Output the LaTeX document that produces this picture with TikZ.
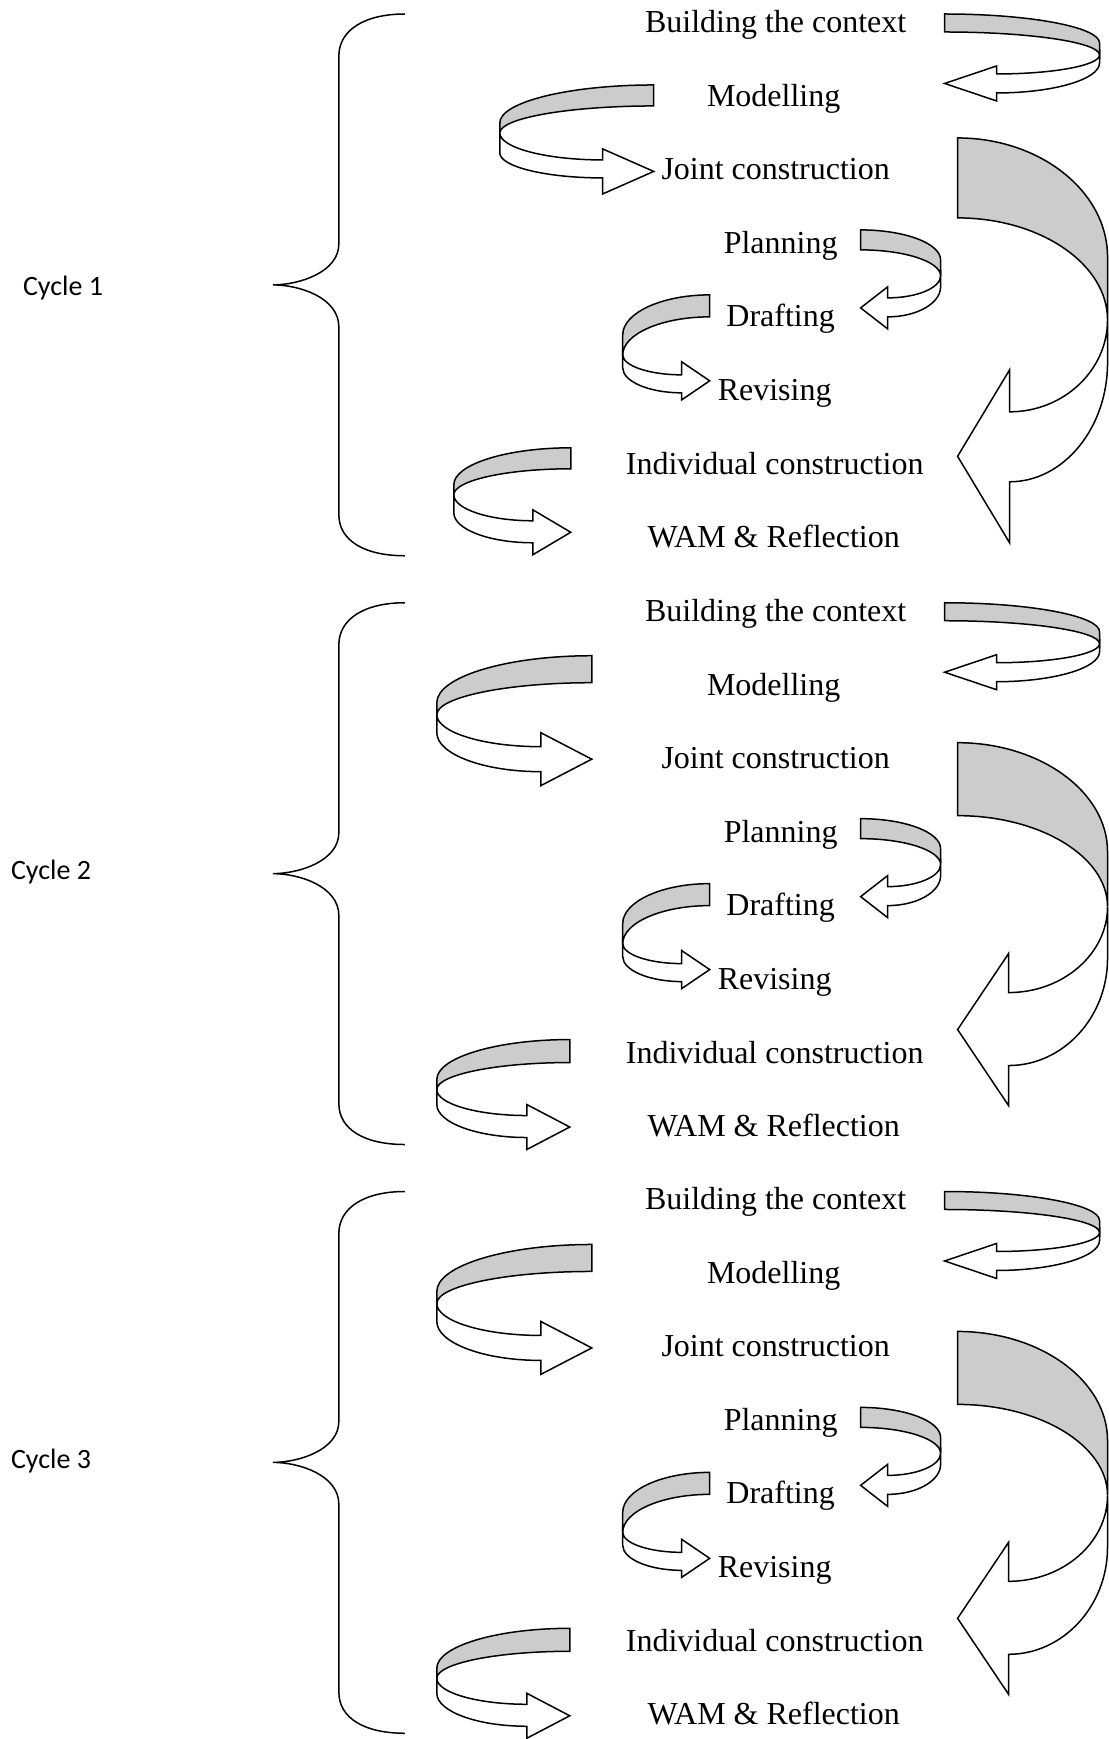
\documentclass[tikz,border=0pt]{standalone}
\usepackage{fontspec}
\setmainfont{Liberation Serif}
\newfontfamily\cyclefont{Carlito}
\usepackage{tikz}

% ribbon arrow: X0, X1 (far side), Xa (head base), Y0, Yg (flat end),
% Ym, Yt (twist), Yv (far side), Yw1 | then Yw2, barb top, barb bottom
\newcommand{\ribbon}[9]{%
  \def\rbXo{#1}\def\rbXi{#2}\def\rbXa{#3}%
  \def\rbYo{#4}\def\rbYg{#5}\def\rbYm{#6}\def\rbYt{#7}\def\rbYv{#8}\def\rbYw{#9}%
  \ribbontail}
\newcommand{\ribbontail}[3]{%
  \draw[back_band] (\rbXo,\rbYo)
    .. controls ({\rbXo+0.55*(\rbXi-\rbXo)},\rbYo) and (\rbXi,{\rbYm-0.55*(\rbYm-\rbYo)}) .. (\rbXi,\rbYm)
    -- (\rbXi,\rbYt)
    .. controls (\rbXi,{\rbYt-0.55*(\rbYt-\rbYg)}) and ({\rbXo+0.55*(\rbXi-\rbXo)},\rbYg) .. (\rbXo,\rbYg)
    -- cycle;
  \draw[front_band] (\rbXi,\rbYt)
    .. controls (\rbXi,{\rbYt+0.55*(\rbYw-\rbYt)}) and ({\rbXa+0.55*(\rbXi-\rbXa)},\rbYw) .. (\rbXa,\rbYw)
    -- (\rbXa,#2) -- (\rbXo,{(#2+#3)/2}) -- (\rbXa,#3) -- (\rbXa,#1)
    .. controls ({\rbXa+0.55*(\rbXi-\rbXa)},#1) and (\rbXi,{\rbYv+0.55*(#1-\rbYv)}) .. (\rbXi,\rbYv)
    -- cycle;
}

\begin{document}
\begin{tikzpicture}
  [x=1pt,y=-1pt]
  \tikzstyle{lbl} = [font=\fontsize{32}{38}\selectfont, text height=22pt, text depth=7pt, inner sep=0pt]
  \tikzstyle{cyc} = [font=\cyclefont\fontsize{28}{34}\selectfont, inner sep=0pt]
  \tikzstyle{brace} = [draw=black, line width=1.5pt]
  \tikzstyle{back_band} = [draw=black, fill=black!20, line width=1.5pt]
  \tikzstyle{front_band} = [draw=black, fill=white, line width=1.5pt]
  \fill[white] (0,0) rectangle (1109,1739);

  \foreach \c/\cx/\cy in {0/63/288, 1/51/283, 2/51/284} {
    \begin{scope}[shift={(0,589*\c)}]
      \node[lbl] (build\c) at (776,25) {Building the context};
      \node[lbl] (model\c) at (774,99) {Modelling};
      \node[lbl] (joint\c) at (776,172) {Joint construction};
      \node[lbl] (plan\c) at (781,246) {Planning};
      \node[lbl] (draft\c) at (781,319) {Drafting};
      \node[lbl] (revise\c) at (775,393) {Revising};
      \node[lbl] (indiv\c) at (775,467) {Individual construction};
      \node[lbl] (wam\c) at (774,540) {WAM \& Reflection};
      \node[cyc] (cycle\c) at (\cx,\cy) {Cycle \pgfmathparse{int(\c+1)}\pgfmathresult};
      \coordinate (tip\c) at (273,285);
      \draw[brace] (405,14) .. controls (365,14) and (339,30) .. (339,56) -- (339,244)
        .. controls (339,272) and (300,285) .. (tip\c)
        .. controls (300,285) and (339,298) .. (339,327) -- (339,515)
        .. controls (339,541) and (365,556) .. (405,556);
      % building -> modelling
      \ribbon{945}{1100}{997}{14}{32}{43}{55}{63}{74}{93}{66}{101}
      % planning -> drafting
      \ribbon{861}{941}{888}{230}{250}{260}{276}{287}{298}{317}{287}{329}
      % drafting -> revising
      \ribbon{710}{623}{682}{295}{317}{335}{355}{368}{375}{393}{362}{400}
    \end{scope}
  }

  % cycle 1
  \ribbon{654}{500}{603}{85}{106}{123}{133}{153}{160}{178}{149}{194}
  \ribbon{958}{1108}{1010}{138}{218}{257}{320}{363}{412}{482}{370}{543}
  \ribbon{571}{454}{533}{448}{469}{485}{495}{513}{521}{543}{510}{555}

  % cycles 2 and 3
  \foreach \c in {1,2} {
    \begin{scope}[shift={(0,589*\c)}]
      \ribbon{592}{437}{541}{67}{94}{114}{126}{144}{158}{183}{144}{197}
      \ribbon{958}{1108}{1009}{154}{227}{263}{318}{370}{404}{477}{365}{517}
      \ribbon{570}{437}{527}{451}{474}{491}{501}{516}{527}{549}{516}{561}
    \end{scope}
  }
\end{tikzpicture}
\end{document}
